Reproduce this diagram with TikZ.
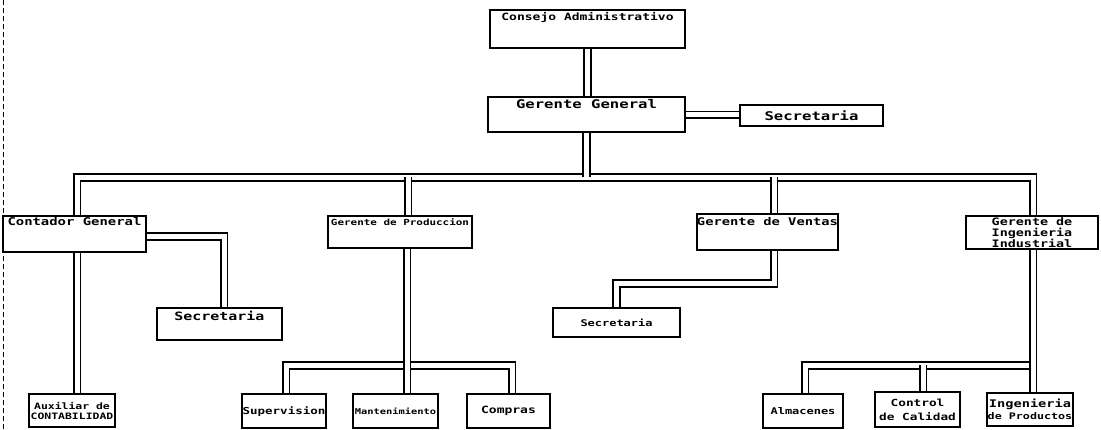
\documentclass[tikz,border=0pt]{standalone}
\usepackage{fontspec}
\newfontfamily\dotfont[FakeStretch=1.3]{DejaVu Sans Mono}
\usetikzlibrary{backgrounds}
\tikzset{
  box/.style={draw, line width=1.7pt, inner sep=1pt},
  link/.style={double, line width=1.8pt, double distance=5pt},
  txt/.style={font=\dotfont\bfseries\fontsize{#1pt}{#1pt}\selectfont},
  toptxt/.style={anchor=north, inner sep=3pt}
}

\begin{document}
\begin{tikzpicture}[x=1pt, y=-1pt]
\begin{scope}[on background layer]
\fill[white] (0,0) rectangle (1101,429);
\end{scope}
% scanned page edge
\draw[dash pattern=on 5pt off 3pt, line width=0.6pt] (3,0) -- (3,429);

% top levels
\node[box, minimum width=195pt, minimum height=38pt,
  label={[txt=10, toptxt]north:Consejo Administrativo}] (cons) at (587.5,29) {};
\node[box, minimum width=197pt, minimum height=35pt,
  label={[txt=12, toptxt]north:Gerente General}] (gg) at (586.5,114.5) {};
\node[box, txt=12, minimum width=143pt, minimum height=21pt] (secg) at (811.5,115.5) {Secretaria};

% department heads
\node[box, minimum width=143pt, minimum height=36pt,
  label={[txt=10.7, toptxt, inner sep=2pt]north:Contador General}] (cont) at (74.5,234) {};
\node[box, minimum width=144pt, minimum height=32pt,
  label={[txt=8.4, toptxt]north:Gerente de Produccion}] (prod) at (400,232) {};
\node[box, minimum width=141pt, minimum height=36pt,
  label={[txt=10.6, toptxt, inner sep=4pt]north:Gerente de Ventas}] (vent) at (767.5,232) {};
\node[box, txt=10.3, align=center, minimum width=132pt, minimum height=33pt, inner sep=0pt]
  (ing) at (1032,232.5) {Gerente de\\Ingenieria\\Industrial};

% secretaries
\node[box, minimum width=125pt, minimum height=32pt,
  label={[txt=11.5, toptxt]north:Secretaria}] (sec1) at (219.5,324) {};
\node[box, txt=9.2, minimum width=127pt, minimum height=29pt] (sec2) at (616.5,322.5) {Secretaria};

% bottom row
\node[box, txt=8.8, align=center, minimum width=86pt, minimum height=33pt]
  (aux) at (72,410.5) {Auxiliar de\\[1pt]CONTABILIDAD};
\node[box, txt=9.6, minimum width=84pt, minimum height=34pt] (sup) at (284,411) {Supervision};
\node[box, txt=8, minimum width=85pt, minimum height=34pt] (mant) at (395.5,411) {Mantenimiento};
\node[box, txt=10, minimum width=83pt, minimum height=34pt] (comp) at (508.5,411) {Compras};
\node[box, txt=9.2, minimum width=80pt, minimum height=34pt] (alm) at (803,411) {Almacenes};
\node[box, txt=9.8, align=center, minimum width=85pt, minimum height=35pt]
  (ctrl) at (917.5,409.5) {Control\\[4pt]de Calidad};
\node[box, txt=10.5, align=center, minimum width=86pt, minimum height=33pt]
  (ip) at (1030,409) {Ingenieria\\[1pt]{\fontsize{9pt}{9pt}\selectfont de Productos}};

% connectors
\coordinate (busL) at (77,177);
\coordinate (busR) at (1033,177);
\coordinate (pbL) at (286,365);
\coordinate (pbR) at (512,365);
\coordinate (vbend) at (616.5,283);
\coordinate (ibL) at (805,365);
\coordinate (ibR) at (1033,365);
\begin{scope}[on background layer]
\draw[link] (cont.north -| busL) |- (busR) -- (ing.north -| busR);
\draw[link] (cons.south) -- (cons.south |- gg.north);
\draw[link] (gg.south) -- (gg.south |- busL);
\draw[link] (gg.east) -- (gg.east -| secg.west);
\draw[link] ([xshift=8pt]prod.north |- busL) -- ([xshift=8pt]prod.north);
\draw[link] ([xshift=6.5pt]vent.north |- busL) -- ([xshift=6.5pt]vent.north);
% contador
\draw[link] (cont.south -| busL) -- (aux.north -| busL);
\draw[link] ([yshift=-2pt]cont.east) -| ([xshift=4.5pt]sec1.north);
% produccion
\draw[link] (sup.north -| pbL) |- (pbR) -- (comp.north -| pbR);
\draw[link] ([xshift=7pt]prod.south) -- ([xshift=7pt]prod.south |- mant.north);
% ventas
\draw[link] ([xshift=6.5pt]vent.south) |- (vbend) -- (sec2.north);
% ingenieria
\draw[link] (alm.north -| ibL) |- (ibR);
\draw[link] (ing.south -| ibR) -- (ip.north -| ibR);
\draw[link] ([xshift=5.5pt]ctrl.north |- ibL) -- ([xshift=5.5pt]ctrl.north);
\end{scope}
\end{tikzpicture}
\end{document}
